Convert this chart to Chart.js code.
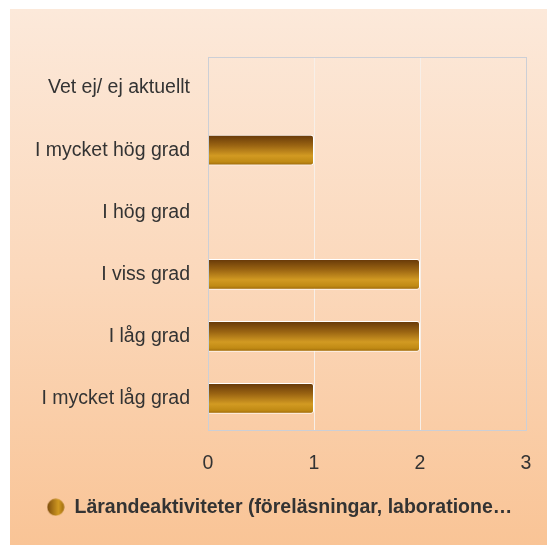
<!DOCTYPE html>
<html>
<head>
<meta charset="utf-8">
<script src="https://cdn.jsdelivr.net/npm/chart.js@4"></script>
<style>
  html, body { margin: 0; padding: 0; background: #ffffff; }
  #wrap {
    position: absolute; left: 10px; top: 9px; width: 537px; height: 536px;
    background: linear-gradient(to bottom, #fce9da 0%, #fbd8bb 50%, #f9c496 100%);
  }
  canvas { display: block; }
</style>
</head>
<body>
<div id="wrap"><canvas id="chart" width="537" height="536"></canvas></div>
<script>
var categories = ["Vet ej/ ej aktuellt", "I mycket hög grad", "I hög grad", "I viss grad", "I låg grad", "I mycket låg grad"];
var values = [0, 1, 0, 2, 2, 1];
var seriesLabel = "Lärandeaktiviteter (föreläsningar, laboratione…";
var xTicks = [0, 1, 2, 3];

var canvas = document.getElementById("chart");
var ctx = canvas.getContext("2d");
var font = "Liberation Sans, Arial, sans-serif";

// legend marker: circle with horizontal gold gradient
function legendDot() {
    var c = document.createElement("canvas");
    c.width = 18; c.height = 18;
    var g = c.getContext("2d");
    var grad = g.createLinearGradient(0, 0, 18, 0);
    grad.addColorStop(0, "#7a4a0c");
    grad.addColorStop(0.65, "#d19a22");
    grad.addColorStop(1, "#9a680c");
    g.fillStyle = grad;
    g.beginPath();
    g.arc(9, 9, 8.5, 0, Math.PI * 2);
    g.fill();
    return c;
}

function barFill(context) {
    var chart = context.chart;
    var yScale = chart.scales.y;
    if (!yScale || context.dataIndex === undefined) return "#c8901c";
    var mid = yScale.getPixelForValue(context.dataIndex);
    if (!isFinite(mid)) return "#c8901c";
    var half = 15.5;
    var grad = chart.ctx.createLinearGradient(0, mid - half, 0, mid + half);
    grad.addColorStop(0, "#643608");
    grad.addColorStop(0.35, "#9a6412");
    grad.addColorStop(0.68, "#d29a22");
    grad.addColorStop(0.88, "#c08a14");
    grad.addColorStop(1, "#946208");
    return grad;
}

var plotBorder = {
    id: "plotBorder",
    afterDraw: function (chart) {
        var a = chart.chartArea;
        var c = chart.ctx;
        c.save();
        c.strokeStyle = "#cccfd6";
        c.lineWidth = 1;
        c.strokeRect(Math.round(a.left) + 0.5, Math.round(a.top) + 0.5, Math.round(a.right - a.left), Math.round(a.bottom - a.top));
        c.restore();
    }
};

new Chart(ctx, {
    type: "bar",
    data: {
        labels: categories,
        datasets: [{
            label: seriesLabel,
            data: values,
            backgroundColor: barFill,
            borderColor: "#ffffff",
            borderWidth: 1,
            borderRadius: 3,
            borderSkipped: "start",
            categoryPercentage: 0.8,
            barPercentage: 0.62,
            pointStyle: legendDot()
        }]
    },
    options: {
        indexAxis: "y",
        responsive: false,
        animation: false,
        layout: { padding: { top: 48, right: 8, left: 10, bottom: 18 } },
        scales: {
            x: {
                min: 0,
                max: 3,
                afterBuildTicks: function (scale) {
                    scale.ticks = xTicks.map(function (v) { return { value: v }; });
                },
                grid: { color: "#f7efe8", lineWidth: 1, drawTicks: false },
                border: { display: false },
                ticks: {
                    padding: 22,
                    color: "#333333",
                    font: { family: font, size: 19.5 }
                },
                afterFit: function (scale) {
                    scale.height = 58;
                    scale.paddingLeft = 0;
                    scale.paddingRight = 21;
                }
            },
            y: {
                grid: { display: false, drawTicks: false },
                border: { display: false },
                ticks: {
                    padding: 18,
                    color: "#333333",
                    font: { family: font, size: 19.5 }
                },
                afterFit: function (scale) { scale.width = 188; }
            }
        },
        plugins: {
            legend: {
                position: "bottom",
                labels: {
                    usePointStyle: true,
                    boxWidth: 18,
                    boxHeight: 18,
                    padding: 10,
                    color: "#333333",
                    font: { family: font, size: 19.5, weight: "bold" }
                }
            },
            tooltip: { enabled: false }
        }
    },
    plugins: [plotBorder]
});
</script>
</body>
</html>
